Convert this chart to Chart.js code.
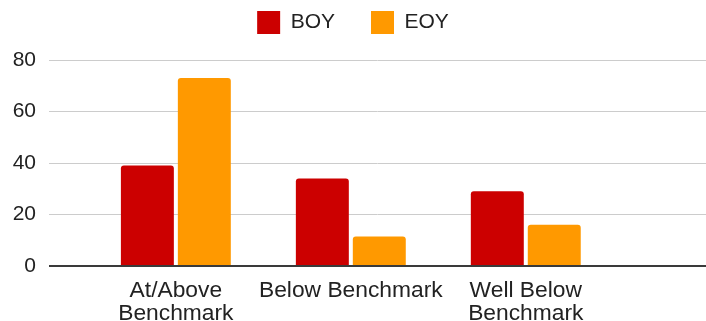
<!DOCTYPE html>
<html lang="en">
<head>
  <meta charset="utf-8">
  <title>Benchmark - BOY vs EOY</title>
  <script src="https://cdn.jsdelivr.net/npm/chart.js@4.4.1/dist/chart.umd.min.js"></script>
  <style>
    body { margin: 0; background: #fff; }
    #wrap { width: 706px; height: 321px; }
  </style>
</head>
<body>
  <div id="wrap">
    <canvas id="benchChart" width="706" height="321"></canvas>
  </div>

<script>
  // chart data
  var categories = ["At/Above Benchmark", "Below Benchmark", "Well Below Benchmark"];
  var tickLabels = [["At/Above", "Benchmark"], "Below Benchmark", ["Well Below", "Benchmark"]];
  var boyValues = [39, 34, 29];
  var eoyValues = [73, 11.5, 16];
  var yTicks = [0, 20, 40, 60, 80];

  var RED = '#cc0000';
  var ORANGE = '#ff9900';
  var FONT = 'Liberation Sans, Arial, sans-serif';

  function points(values) {
    return values.map(function(v, i) { return { x: i, y: v }; });
  }

  // legend gets a fixed height so the plot starts where the original does
  var legendHeight = {
    id: 'legendHeight',
    beforeInit: function(chart) {
      var fit = chart.legend.fit;
      chart.legend.fit = function() {
        fit.call(this);
        this.height = 85;
      };
    }
  };

  var ctx = document.getElementById('benchChart');
  var benchChart = new Chart(ctx, {
    type: 'bar',
    data: {
      datasets: [{
        label: 'BOY',
        data: points(boyValues),
        backgroundColor: RED,
        borderRadius: 3,
        categoryPercentage: 0.651,
        barPercentage: 0.93
      }, {
        label: 'EOY',
        data: points(eoyValues),
        backgroundColor: ORANGE,
        borderRadius: 3,
        categoryPercentage: 0.651,
        barPercentage: 0.93
      }]
    },
    options: {
      responsive: false,
      animation: false,
      layout: { padding: { top: -25, left: 0, right: 0, bottom: 0 } },
      plugins: {
        tooltip: { enabled: false },
        legend: {
          position: 'top',
          align: 'center',
          labels: {
            boxWidth: 23,
            boxHeight: 23,
            padding: 36,
            color: '#222',
            font: { family: FONT, size: 21 }
          }
        }
      },
      scales: {
        x: {
          type: 'linear',
          offset: false,
          min: -0.725,
          max: 3.03,
          grid: { display: false },
          border: { display: false },
          afterBuildTicks: function(scale) {
            scale.ticks = categories.map(function(c, i) { return { value: i }; });
          },
          afterFit: function(scale) { scale.height = 55; },
          ticks: {
            autoSkip: false,
            maxRotation: 0,
            padding: 5,
            color: '#222',
            font: { family: FONT, size: 22.8, lineHeight: 1.02 },
            callback: function(value) { return tickLabels[value]; }
          }
        },
        y: {
          min: 0,
          max: 80,
          afterBuildTicks: function(scale) {
            scale.ticks = yTicks.map(function(v) { return { value: v }; });
          },
          afterFit: function(scale) { scale.width = 49; },
          border: { display: false },
          grid: {
            drawTicks: false,
            color: function(c) { return c.tick && c.tick.value === 0 ? '#3a3a3a' : '#cccccc'; },
            lineWidth: function(c) { return c.tick && c.tick.value === 0 ? 2 : 1; }
          },
          ticks: {
            padding: 13,
            color: '#222',
            font: { family: FONT, size: 21 }
          }
        }
      }
    },
    plugins: [legendHeight]
  });
</script>
</body>
</html>
